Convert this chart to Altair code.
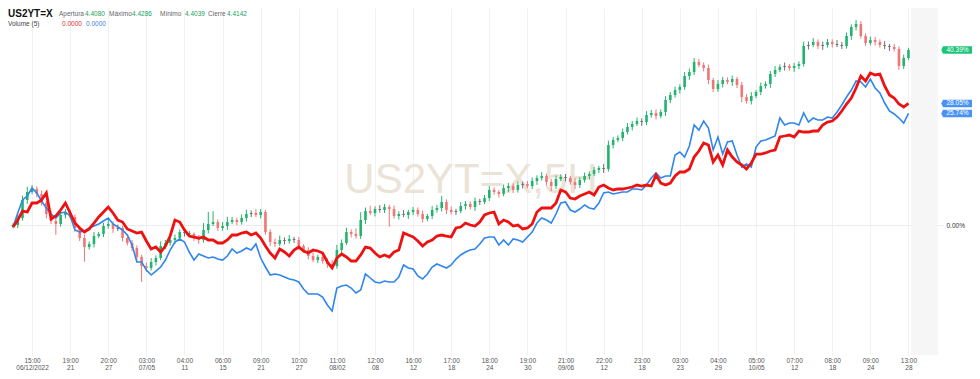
import altair as alt
import pandas as pd

# ---------------- data (percent change vs. start) ----------------
tick_pos = [4, 12, 20, 28, 36, 44, 52, 60, 68, 76, 84, 92, 100, 108, 116, 124,
            132, 140, 148, 156, 164, 172, 180, 188]
tick_time = ["15:00", "19:00", "20:00", "03:00", "04:00", "06:00", "09:00", "10:00",
             "11:00", "12:00", "16:00", "17:00", "18:00", "19:00", "21:00", "22:00",
             "23:00", "03:00", "04:00", "05:00", "07:00", "08:00", "09:00", "13:00"]
tick_date = ["06/12/2022", "21", "27", "07/05", "11", "15", "21", "27",
             "08/02", "08", "12", "18", "24", "30", "09/06", "12",
             "18", "23", "29", "10/05", "12", "18", "24", "28"]

first_open = -0.3
closes = [
    0.0, 1.62, 5.77, 7.62, 8.31, 7.15, 5.08, 2.54, 0.92, 0.23,
    2.31, 3.0, 1.85, -0.69, -3.0, -5.08, -4.38, -2.54, -2.08, -0.23,
    0.23, -0.92, -0.69, -3.0, -4.15, -5.31, -7.38, -9.46, -9.92, -8.54,
    -7.62, -4.85, -4.15, -3.46, -3.0, -1.62, -1.85, -2.08, -3.0, -3.46,
    -1.15, 0.23, 0.69, -0.69, -0.23, 0.69, 1.15, 0.69, 1.62, 2.54,
    2.77, 2.31, 3.0, -1.62, -3.92, -4.38, -3.46, -3.69, -3.23, -3.46,
    -4.85, -5.77, -7.15, -8.08, -7.38, -8.31, -9.0, -9.46, -5.77, -4.15,
    -1.62, -2.08, -2.54, 1.15, 3.23, 2.77, 3.69, 3.46, 4.15, 3.69,
    2.08, 2.54, 2.31, 3.0, 3.46, 2.54, 1.38, 2.08, 3.46, 3.92,
    5.31, 3.46, 3.0, 3.23, 4.38, 4.85, 4.15, 5.54, 5.31, 6.23,
    8.08, 7.62, 7.15, 8.54, 9.0, 8.08, 9.23, 9.46, 9.0, 10.15,
    10.85, 11.31, 9.92, 9.0, 10.62, 11.08, 10.85, 9.92, 9.23, 10.38,
    11.31, 11.77, 12.69, 13.15, 12.92, 18.46, 19.62, 20.08, 21.46, 22.62,
    23.31, 24.0, 23.77, 25.38, 25.85, 25.15, 26.08, 28.85, 30.0, 31.15,
    31.85, 34.39, 35.31, 37.62, 36.92, 36.23, 33.46, 31.38, 32.54, 33.46,
    33.0, 33.69, 32.31, 29.54, 28.62, 29.77, 30.69, 32.08, 32.54, 34.85,
    35.77, 36.46, 36.69, 36.23, 36.69, 37.15, 41.31, 41.54, 42.23, 41.31,
    41.54, 42.23, 41.77, 41.54, 41.31, 43.62, 45.69, 46.39, 43.62, 42.0,
    42.69, 42.23, 41.54, 41.31, 41.08, 40.62, 36.69, 38.54, 40.39,
]
wick_hi = [
    0.4, 0.8, 1.0, 1.2, 0.9, 0.6, 0.8, 0.5, 0.7, 0.6,
    0.9, 0.7, 0.5, 0.6, 0.4, 0.8, 0.6, 0.9, 0.5, 0.7,
    1.0, 0.6, 0.8, 0.5, 0.4, 0.7, 0.6, 0.5, 0.8, 0.9,
    0.6, 1.1, 0.7, 0.5, 0.8, 0.6, 0.9, 0.5, 0.4, 0.7,
    1.6, 2.8, 2.5, 0.6, 0.9, 1.2, 0.7, 0.5, 0.8, 1.0,
    0.6, 0.9, 0.7, 0.5, 0.6, 0.8, 1.0, 0.6, 0.9, 0.5,
    0.7, 0.4, 0.6, 0.8, 0.5, 0.7, 0.6, 0.9, 1.2, 0.8,
    1.0, 0.6, 1.3, 1.8, 0.8, 1.2, 0.6, 0.9, 0.7, 0.5,
    0.8, 0.6, 0.9, 0.5, 0.7, 0.6, 0.8, 0.5, 0.9, 0.7,
    1.4, 0.6, 0.8, 0.5, 0.9, 0.7, 0.6, 0.8, 0.5, 0.7,
    0.9, 0.6, 0.5, 0.8, 0.7, 0.6, 0.9, 0.5, 0.7, 0.8,
    0.6, 0.9, 0.5, 0.7, 0.8, 0.6, 0.7, 0.5, 0.9, 0.6,
    0.8, 0.6, 0.7, 0.5, 0.9, 1.0, 0.7, 0.6, 0.8, 0.9,
    0.7, 0.8, 0.6, 0.9, 0.7, 0.8, 0.6, 0.9, 0.7, 0.8,
    0.6, 0.9, 0.8, 0.9, 0.7, 0.6, 0.8, 0.5, 0.9, 0.7,
    0.6, 0.8, 0.5, 0.7, 0.6, 0.9, 0.5, 0.8, 0.6, 0.7,
    0.9, 0.6, 0.8, 0.5, 0.7, 0.6, 1.0, 0.8, 0.9, 0.6,
    0.8, 0.7, 0.6, 0.9, 0.7, 0.8, 0.6, 0.9, 0.7, 0.6,
    0.8, 0.7, 0.6, 0.9, 0.5, 0.7, 0.6, 0.8, 0.5,
]
wick_lo = [
    0.5, 0.7, 0.6, 0.9, 0.5, 0.8, 0.6, 1.0, 0.7, 2.5,
    0.6, 0.8, 0.5, 0.9, 0.7, 3.4, 0.6, 0.8, 0.5, 0.7,
    0.6, 0.9, 0.5, 0.8, 0.6, 0.7, 1.2, 3.7, 0.9, 0.6,
    0.8, 0.5, 0.7, 0.6, 0.9, 0.5, 0.8, 0.6, 0.7, 0.9,
    0.6, 0.8, 0.5, 0.7, 0.6, 0.9, 0.5, 0.7, 0.6, 0.8,
    0.7, 0.5, 0.8, 0.6, 0.9, 0.7, 0.5, 0.8, 0.6, 0.7,
    0.9, 0.6, 0.8, 0.5, 0.7, 0.6, 0.9, 0.8, 0.6, 0.7,
    0.5, 0.8, 0.6, 0.7, 0.9, 0.5, 0.8, 0.6, 0.7, 4.1,
    0.6, 0.8, 0.5, 0.9, 0.7, 0.6, 0.8, 0.5, 0.7, 0.6,
    0.8, 0.9, 0.6, 0.7, 0.5, 0.8, 0.6, 0.9, 0.7, 0.5,
    0.7, 0.6, 0.8, 0.5, 0.9, 0.7, 0.6, 0.8, 0.5, 0.7,
    0.9, 0.6, 0.8, 1.2, 0.7, 0.5, 0.8, 0.6, 0.9, 0.7,
    0.6, 0.8, 0.5, 0.7, 0.9, 0.6, 0.8, 0.5, 0.7, 0.6,
    0.8, 0.5, 0.9, 0.7, 0.6, 0.8, 0.5, 0.9, 0.7, 0.6,
    0.8, 0.6, 0.9, 0.7, 0.5, 0.8, 1.0, 0.7, 0.6, 0.8,
    0.5, 0.9, 0.7, 1.2, 0.6, 0.8, 0.5, 0.7, 0.6, 0.9,
    0.7, 0.5, 0.8, 0.6, 0.9, 0.7, 0.6, 0.8, 0.5, 0.7,
    0.9, 0.6, 0.8, 0.5, 0.7, 0.6, 0.9, 0.8, 0.6, 0.7,
    0.5, 0.8, 0.6, 0.7, 0.9, 0.6, 0.9, 0.7, 0.5,
]
red_series = [
    -0.46, 1.15, 3.23, 3.0, 5.08, 5.08, 5.77, 7.39, 1.38, 2.08,
    3.46, 5.08, 2.77, 0.46, -0.69, -1.62, -0.92, 0.46, 1.85, 3.0,
    4.15, 2.77, 1.15, 0.69, -0.92, -1.38, -1.85, -1.62, -3.69, -5.54,
    -5.08, -6.23, -4.85, -2.54, 1.15, 0.69, -1.15, -2.54, -2.77, -3.0,
    -2.77, -3.46, -3.46, -4.15, -4.15, -3.46, -2.31, -2.31, -1.85, -1.62,
    -2.31, -1.85, -3.0, -4.85, -6.46, -7.62, -5.54, -6.23, -7.15, -5.77,
    -5.08, -6.0, -6.46, -5.77, -6.0, -6.46, -8.54, -9.92, -7.62, -6.69,
    -7.38, -8.31, -8.31, -6.92, -5.08, -5.31, -6.46, -7.38, -6.92, -7.38,
    -6.23, -5.77, -1.85, -2.31, -2.77, -3.69, -4.85, -3.92, -3.46, -2.54,
    -2.31, -2.54, -2.77, -0.69, -0.46, 0.46, 0.0, -0.23, 0.69, 2.31,
    2.77, 3.0, 0.23, 1.15, 0.69, -0.23, 0.0, -0.92, -0.69, 0.23,
    3.0, 3.92, 3.92, 3.92, 5.08, 8.08, 7.62, 6.23, 6.0, 6.69,
    7.15, 7.62, 6.92, 8.77, 9.23, 8.54, 8.08, 8.31, 8.31, 8.54,
    8.77, 9.23, 9.0, 9.23, 9.0, 11.54, 9.69, 9.23, 9.69, 11.31,
    12.23, 12.23, 12.92, 15.69, 17.08, 18.92, 18.46, 14.54, 16.15, 13.85,
    17.31, 15.69, 14.54, 13.85, 12.92, 14.31, 16.38, 16.38, 16.62, 17.08,
    17.31, 20.31, 20.54, 20.77, 20.31, 21.69, 21.46, 21.46, 21.69, 21.69,
    23.08, 23.77, 24.0, 24.92, 26.31, 27.92, 29.31, 31.62, 34.39, 33.23,
    35.08, 34.62, 34.85, 32.08, 30.0, 29.31, 27.92, 27.23, 28.05,
]
blue_series = [
    -0.46, 2.77, 5.77, 6.69, 8.54, 7.39, 5.54, 3.92, 2.54, 1.62,
    2.77, 3.0, 2.08, -1.15, -1.62, -1.38, -0.69, -0.23, 0.23, 0.92,
    1.62, 0.23, -0.46, -1.15, -2.31, -4.62, -8.54, -8.54, -10.38, -11.54,
    -10.62, -9.69, -8.08, -5.77, -3.92, -3.23, -3.92, -6.23, -8.08, -6.69,
    -7.15, -7.62, -7.38, -7.85, -8.08, -7.15, -5.54, -6.46, -6.0, -5.31,
    -5.77, -4.38, -7.62, -9.69, -11.54, -11.31, -11.54, -12.0, -12.46, -12.69,
    -13.15, -14.77, -15.92, -15.92, -15.92, -16.62, -18.46, -19.85, -14.54, -14.08,
    -13.85, -14.54, -15.69, -15.0, -11.31, -12.23, -13.15, -13.38, -12.92, -13.15,
    -13.15, -12.0, -9.23, -9.92, -10.15, -11.77, -12.46, -11.31, -9.69, -9.0,
    -9.46, -9.92, -9.23, -7.85, -6.92, -6.23, -5.77, -5.54, -4.38, -3.0,
    -2.77, -2.77, -4.62, -3.46, -4.62, -3.23, -3.46, -3.92, -2.77, -1.62,
    0.46, 1.62, 1.15, 0.46, 2.54, 5.08, 5.31, 3.46, 3.0, 3.69,
    4.62, 3.92, 3.69, 5.08, 7.39, 7.62, 7.15, 7.39, 7.62, 7.62,
    8.31, 8.31, 8.08, 9.23, 10.85, 12.0, 10.85, 11.31, 11.31, 16.15,
    16.85, 15.69, 18.23, 23.08, 21.92, 24.0, 22.38, 17.31, 20.31, 16.38,
    19.15, 19.38, 16.15, 13.38, 14.08, 13.38, 18.0, 19.38, 19.62, 20.08,
    20.54, 24.69, 23.08, 23.54, 23.54, 23.08, 25.85, 23.77, 24.69, 24.23,
    24.23, 24.92, 24.69, 26.08, 27.69, 29.54, 31.15, 33.23, 33.0, 31.85,
    33.69, 31.62, 30.46, 28.15, 26.31, 25.62, 24.69, 23.54, 25.74,
]

header_line1 = [("Apertura", "4.4080"), ("Máximo", "4.4286"), ("Mínimo", "4.4039"), ("Cierre", "4.4142")]
volume_values = ["0.0000", "0.0000"]
ticker = "US2YT=X"
watermark = "US2YT=X,5H"
future_start, future_end = 188.5, 194.2
y_min, y_max = -30.0, 50.08

# ---------------- build table ----------------
n = len(closes)
opens = [first_open] + closes[:-1]
highs = [max(o, c) + w for o, c, w in zip(opens, closes, wick_hi)]
lows = [min(o, c) - w for o, c, w in zip(opens, closes, wick_lo)]
dirs = ["up" if c - o > 0.25 else ("down" if o - c > 0.25 else "flat") for o, c in zip(opens, closes)]
df = pd.DataFrame({"i": list(range(n)), "o": opens, "c": closes, "h": highs, "l": lows,
                   "red": red_series, "blue": blue_series, "d": dirs})

FONT = "Liberation Sans"
GREEN, RED_C, GREY = "#22b36e", "#f07575", "#6f6f6f"

labels_js = "[" + ",".join(f"['{t}','{d}']" for t, d in zip(tick_time, tick_date)) + "]"
label_expr = f"{labels_js}[indexof({tick_pos}, datum.value)]"

xs = alt.Scale(domain=[0, future_end], nice=False, zero=False)
ys = alt.Scale(domain=[y_min, y_max], nice=False, zero=False)
x_axis = alt.Axis(values=tick_pos, labelExpr=label_expr, grid=True, gridColor="#f1f1f1",
                  domain=False, ticks=False, labelFontSize=6.5, labelColor="#555555",
                  labelFont=FONT, labelPadding=2, labelBaseline="top", labelLineHeight=7,
                  labelOverlap=False, labelFlush=False, title=None)
y_axis = alt.Axis(orient="right", values=[0], labelExpr="format(datum.value, '.2f') + '%'",
                  grid=True, gridColor="#ececec", domain=False, ticks=False,
                  labelFontSize=6.5, labelColor="#333333", labelFont=FONT, labelPadding=3,
                  title=None)


def X(f):
    return alt.X(f, type="quantitative", scale=xs, axis=x_axis, title=None)


def Y(f):
    return alt.Y(f, type="quantitative", scale=ys, axis=y_axis, title=None)


dir_color = alt.Color("d:N", scale=alt.Scale(domain=["up", "down", "flat"], range=[GREEN, RED_C, GREY]), legend=None)

base = alt.Chart(df)

hatch = alt.Chart(pd.DataFrame({"a": [future_start], "b": [future_end]})).mark_rect(
    color="#f6f6f6").encode(x=X("a"), x2="b")

wm = alt.Chart(pd.DataFrame({"t": [watermark]})).mark_text(
    fontSize=42, font=FONT, color="#ebe4d6", align="center", baseline="alphabetic"
).encode(x=alt.value(463), y=alt.value(185), text="t:N")

wicks = base.mark_rule(strokeWidth=1).encode(x=X("i"), y=Y("l"), y2="h", color=dir_color)
bodies = base.mark_bar(size=2.6).encode(x=X("i"), y=Y("o"), y2="c", color=dir_color)
blue_line = base.mark_line(color="#2f86ec", strokeWidth=1.6).encode(x=X("i"), y=Y("blue"))
red_line = base.mark_line(color="#ee1111", strokeWidth=2.8).encode(x=X("i"), y=Y("red"))

badge_df = pd.DataFrame({
    "v": [closes[-1], red_series[-1], blue_series[-1]],
    "lbl": [f"{closes[-1]:.2f}%", f"{red_series[-1]:.2f}%", f"{blue_series[-1]:.2f}%"],
    "col": ["#1ec47a", "#4a92f3", "#4a92f3"],
})
badge_path = "M-1.12,0 L-1,-0.26 L1,-0.26 L1,0.26 L-1,0.26 Z"
badges = alt.Chart(badge_df).mark_point(shape=badge_path, size=841, filled=True, opacity=1,
                                         strokeWidth=0).encode(
    x=alt.value(949.5), y=Y("v"), color=alt.Color("col:N", scale=None))
badge_txt = alt.Chart(badge_df).mark_text(fontSize=6.5, font=FONT, color="white",
                                          align="center", baseline="middle").encode(
    x=alt.value(949.5), y=Y("v"), text="lbl:N")


def htext(txt, x, y, color, size=6.5, weight="normal"):
    return alt.Chart(pd.DataFrame({"t": [txt]})).mark_text(
        fontSize=size, font=FONT, color=color, align="left", baseline="middle", fontWeight=weight
    ).encode(x=alt.value(x), y=alt.value(y), text="t:N")


header = [htext(ticker, 0, 6, "#111111", size=10, weight="bold")]
lab_x = [51, 101, 152, 200]
val_x = [77, 124, 177, 219]
for (lab, val), lx, vx in zip(header_line1, lab_x, val_x):
    header.append(htext(lab, lx, 6, "#666666"))
    header.append(htext(val, vx, 6, "#22a060"))
header.append(htext("Volume (5)", 0, 16, "#444444"))
header.append(htext(volume_values[0], 54, 16, "#e23030"))
header.append(htext(volume_values[1], 78, 16, "#3a82e8"))

chart = alt.layer(hatch, wm, wicks, bodies, blue_line, red_line, badges, badge_txt, *header).properties(
    width=935, height=347,
    autosize=alt.AutoSizeParams(type="none"),
    padding={"left": 0, "top": 0, "right": 29, "bottom": 16},
    background="white",
).configure_view(stroke=None)

chart.save("out.html", embed_options={"renderer": "svg", "actions": False})
